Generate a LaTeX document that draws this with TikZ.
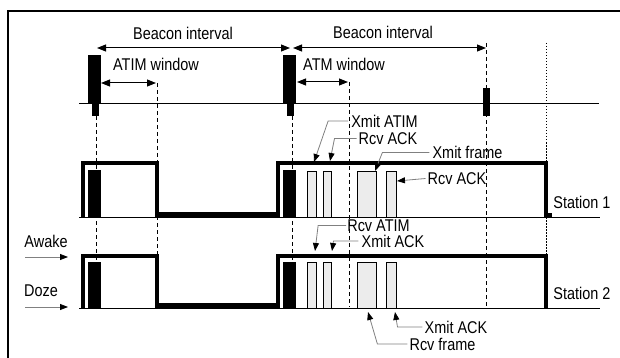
\documentclass[tikz,border=0pt]{standalone}
\usepackage{fontspec}
\newfontfamily\figfont{Liberation Sans}[FakeStretch=0.85]
\usetikzlibrary{arrows.meta,positioning,calc}

\begin{document}
\begin{tikzpicture}[
  x=1pt, y=-1pt,
  lbl/.style={inner sep=0pt, font=\figfont\fontsize{17}{19}\selectfont},
  trace/.style={line width=4.5pt, line join=miter},
  base/.style={line width=0.9pt},
  pkt/.style={draw, line width=0.8pt, fill=gray!15},
  tick/.style={line width=0.8pt, dash pattern=on 4pt off 3pt},
  span/.style={{Triangle[length=9pt,width=7pt]}-{Triangle[length=9pt,width=7pt]}, line width=1pt},
  lead/.style={-{Triangle[length=8pt,width=6pt,color=black]}, gray, line width=0.8pt},
]

\useasboundingbox (0,0) rectangle (620,358);

% Frame
\draw[line width=1.2pt] (8,358) -- (8,11) -- (620,11);

% Dashed time marks
\draw[tick] (96,116) -- (96,307);
\draw[tick] (157,83) -- (157,307);
\draw[tick] (292,116) -- (292,307);
\draw[tick] (349,82) -- (349,307);
\draw[tick] (486,43) -- (486,307);
\draw[line width=0.8pt, dash pattern=on 1.5pt off 1.5pt] (546,43) -- (546,256);

% Time line and beacons
\draw[base] (79,103) -- (599,103);
\fill (88,55) rectangle (101,103);
\fill (92,103) rectangle (99,116);
\fill (283,55) rectangle (296,103);
\fill (287,103) rectangle (294,116);
\fill (483,88) rectangle (490,116);

% Intervals
\coordinate (bi1) at (97,48);
\coordinate (bi2) at (290,48);
\coordinate (bi3) at (293,48);
\coordinate (bi4) at (486,48);
\coordinate (aw1) at (101,83);
\coordinate (aw2) at (156,83);
\coordinate (aw3) at (297,82);
\coordinate (aw4) at (348,82);
\draw[span] (bi1) -- (bi2);
\draw[span] (bi3) -- (bi4);
\draw[span] (aw1) -- (aw2);
\draw[span] (aw3) -- (aw4);
\node[lbl] (bint1) at (183,33) {Beacon interval};
\node[lbl] (bint2) at (383,32) {Beacon interval};
\node[lbl] (atim1) at (156,64) {ATIM window};
\node[lbl] (atim2) at (344,64) {ATM window};

% Station 1
\draw[base] (79,217) -- (600,217);
\draw[trace] (83,217) -- (83,163) -- (157,163) -- (157,214.5) -- (278,214.5)
  -- (278,163) -- (546,163) -- (546,215.5) -- (552,215.5);
\fill (88,170) rectangle (101,217);
\fill (283,170) rectangle (296,217);
\foreach \xa/\xb in {307/316, 323/331, 357/376, 386/396}
  \draw[pkt] (\xa,171) rectangle (\xb,217);
\node[lbl] (st1) at (582,202) {Station 1};

% Station 2
\draw[base] (79,308) -- (600,308);
\draw[trace] (83,308) -- (83,256) -- (157,256) -- (157,305.5) -- (278,305.5)
  -- (278,256) -- (546,256) -- (546,308);
\fill (88,262) rectangle (101,308);
\fill (283,262) rectangle (296,308);
\foreach \xa/\xb in {307/316, 323/331, 357/376, 386/396}
  \draw[pkt] (\xa,262) rectangle (\xb,308);
\node[lbl] (st2) at (582,293) {Station 2};

% Awake / Doze
\node[lbl] (awake) at (46,241) {Awake};
\node[lbl] (doze) at (41,291) {Doze};
\coordinate (aw0) at (25,257);
\coordinate (awt) at (68,257);
\coordinate (dz0) at (25,307);
\coordinate (dzt) at (68,307);
\draw[lead] (aw0) -- (awt);
\draw[lead] (dz0) -- (dzt);

% Frame labels, station 1
\node[lbl] (xatim) at (384.5,121) {Xmit ATIM};
\node[lbl] (rack1) at (388,138.5) {Rcv ACK};
\node[lbl] (xfrm) at (467.5,152.5) {Xmit frame};
\node[lbl] (rack2) at (457,178.5) {Rcv ACK};
\coordinate (t1) at (314,162);
\coordinate (t2) at (330,161);
\coordinate (t3) at (375,171);
\coordinate (t4) at (397,181);
\draw[lead] ([xshift=-3pt]xatim.west) -- ++(-20,0) -- (t1);
\draw[lead] ([xshift=-2pt]rack1.west) -- ++(-22,0) -- (t2);
\draw[lead] ([xshift=-3pt]xfrm.west) -- ++(-47,0) -- (t3);
\draw[lead] ([xshift=-2pt]rack2.west) -- (t4);

% Frame labels, station 2
\node[lbl] (ratim) at (378.5,225.5) {Rcv ATIM};
\node[lbl] (xack1) at (393,241) {Xmit ACK};
\node[lbl] (xack2) at (456,327) {Xmit ACK};
\node[lbl] (rfrm) at (442.5,344) {Rcv frame};
\coordinate (t5) at (315,251);
\coordinate (t6) at (332,251);
\coordinate (t7) at (395,312);
\coordinate (t8) at (368,312);
\draw[lead] ([xshift=-1pt]ratim.west) -- ++(-28,0) -- (t5);
\draw[lead] ([xshift=-3pt]xack1.west) -- ++(-25,0) -- (t6);
\draw[lead] ([xshift=-2pt]xack2.west) -- ++(-25,0) -- (t7);
\draw[lead] ([xshift=-2pt]rfrm.west) -- ++(-30,0) -- (t8);

\end{tikzpicture}
\end{document}
